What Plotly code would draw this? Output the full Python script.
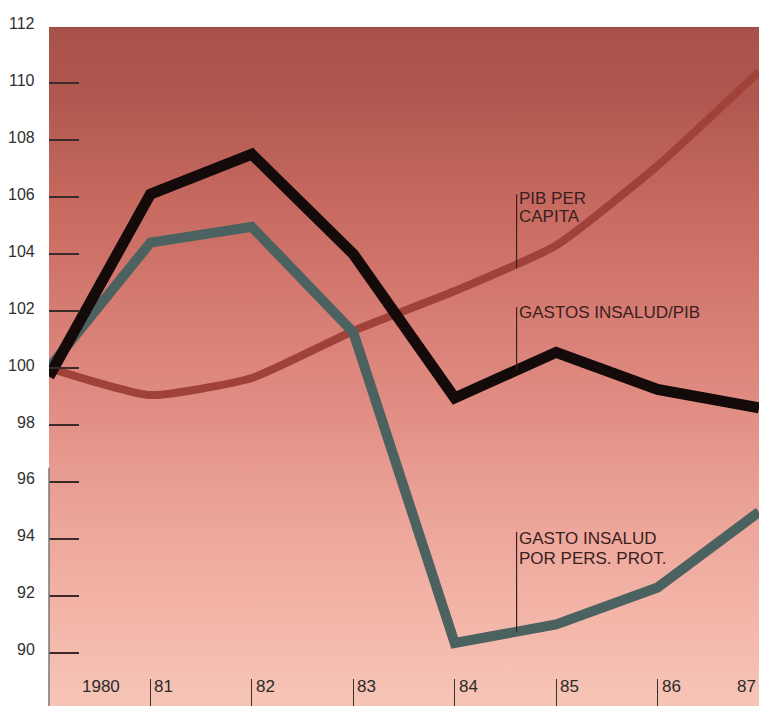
import plotly.graph_objects as go

# Index 1980 = 100
years = [1980, 1981, 1982, 1983, 1984, 1985, 1986, 1987]
pib_per_capita = [100.0, 99.05, 99.65, 101.3, 102.7, 104.3, 107.1, 110.4]
gastos_insalud_pib = [99.7, 106.1, 107.5, 104.0, 98.95, 100.55, 99.25, 98.6]
gasto_por_pers_prot = [100.0, 104.4, 104.95, 101.25, 90.35, 91.0, 92.3, 94.95]

y_tick_values = [90, 92, 94, 96, 98, 100, 102, 104, 106, 108, 110, 112]
x_tick_years = [1981, 1982, 1983, 1984, 1985, 1986]
x_tick_labels = ["1980", "81", "82", "83", "84", "85", "86", "87"]

Y_MIN, Y_MAX = 88.14, 111.965
PX_PER_UNIT = 28.5
FONT = "Liberation Sans, Arial, sans-serif"

fig = go.Figure()

# shaded backdrop, dark at the top fading to pink at the bottom
fig.add_trace(go.Scatter(
    x=[1980, 1987, 1987, 1980, 1980],
    y=[Y_MIN, Y_MIN, Y_MAX, Y_MAX, Y_MIN],
    mode="lines", line=dict(width=0), fill="toself",
    fillgradient=dict(
        type="vertical", start=Y_MIN, stop=Y_MAX,
        colorscale=[
            [0.0, "#f7c5b7"], [0.156, "#f2b3a6"], [0.303, "#eba196"],
            [0.451, "#e08c82"], [0.598, "#d57a71"], [0.745, "#c6695f"],
            [0.892, "#b05850"], [1.0, "#a8514a"],
        ],
    ),
    hoverinfo="skip", showlegend=False,
))

fig.add_trace(go.Scatter(
    x=years, y=pib_per_capita, mode="lines",
    line=dict(color="#a0423a", width=8, shape="spline", smoothing=0.5),
    name="PIB PER CAPITA", showlegend=False,
))
fig.add_trace(go.Scatter(
    x=years, y=gasto_por_pers_prot, mode="lines",
    line=dict(color="#4b6260", width=10),
    name="GASTO INSALUD POR PERS. PROT.", showlegend=False,
))
fig.add_trace(go.Scatter(
    x=years, y=gastos_insalud_pib, mode="lines",
    line=dict(color="#140a0a", width=11),
    name="GASTOS INSALUD/PIB", showlegend=False,
))

annotations = []
# y-axis labels to the left of the frame
for v in y_tick_values:
    yv = min(v, Y_MAX)
    annotations.append(dict(
        x=0, xref="paper", y=yv, yref="y", text=str(v), showarrow=False,
        xanchor="right", yanchor="middle", xshift=-12,
        yshift=3 + (v - yv) * PX_PER_UNIT,
        font=dict(family=FONT, size=16, color="#303030"),
    ))
# year labels along the bottom
for i, lab in enumerate(x_tick_labels):
    yr = years[i]
    if i == 0:
        xa, xs = "left", 31
    elif i == len(x_tick_labels) - 1:
        xa, xs = "right", -1
    else:
        xa, xs = "left", 2
    annotations.append(dict(
        x=yr, xref="x", y=0, yref="paper", text=lab, showarrow=False,
        xanchor=xa, yanchor="middle", xshift=xs, yshift=20,
        font=dict(family=FONT, size=17, color="#2b2b2b"),
    ))

# series captions with their leader lines
label_x = 1984.62
captions = [
    ("PIB PER", 105.95), ("CAPITA", 105.3),
    ("GASTOS INSALUD/PIB", 101.93),
    ("GASTO INSALUD", 94.0), ("POR PERS. PROT.", 93.33),
]
for txt, yv in captions:
    annotations.append(dict(
        x=label_x, xref="x", y=yv, yref="y", text=txt, showarrow=False,
        xanchor="left", yanchor="middle", xshift=-1,
        font=dict(family=FONT, size=17, color="#3a2020"),
    ))

shapes = []
leader_x = 1984.61
for y0, y1 in [(106.1, 103.5), (102.14, 99.93), (94.25, 90.75)]:
    shapes.append(dict(
        type="line", xref="x", yref="y", x0=leader_x, x1=leader_x,
        y0=y0, y1=y1, line=dict(color="#3a2020", width=1.2), layer="above",
    ))
# lower part of the left frame line
shapes.append(dict(
    type="line", xref="paper", yref="y", x0=0, x1=0, y0=96.5, y1=Y_MIN,
    line=dict(color="#777777", width=1.5), layer="above",
))
# top edge of the panel
shapes.append(dict(
    type="line", xref="paper", yref="y", x0=0, x1=1, y0=Y_MAX, y1=Y_MAX,
    line=dict(color="#8e433d", width=1.2), layer="above",
))

fig.update_layout(
    width=759, height=706,
    margin=dict(l=49, r=0, t=27, b=0),
    paper_bgcolor="white", plot_bgcolor="white",
    showlegend=False,
    annotations=annotations, shapes=shapes,
    xaxis=dict(
        range=[1980, 1987], showgrid=False, zeroline=False, showline=False,
        tickmode="array", tickvals=x_tick_years,
        ticks="inside", ticklen=27, tickwidth=1, tickcolor="#3a3030",
        showticklabels=False,
    ),
    yaxis=dict(
        range=[Y_MIN, Y_MAX], showgrid=False, zeroline=False, showline=False,
        tickmode="array", tickvals=y_tick_values[:-1],
        ticks="inside", ticklen=30, tickwidth=1.5, tickcolor="#3a2a2a",
        showticklabels=False,
    ),
)

fig.write_html("out.html")
